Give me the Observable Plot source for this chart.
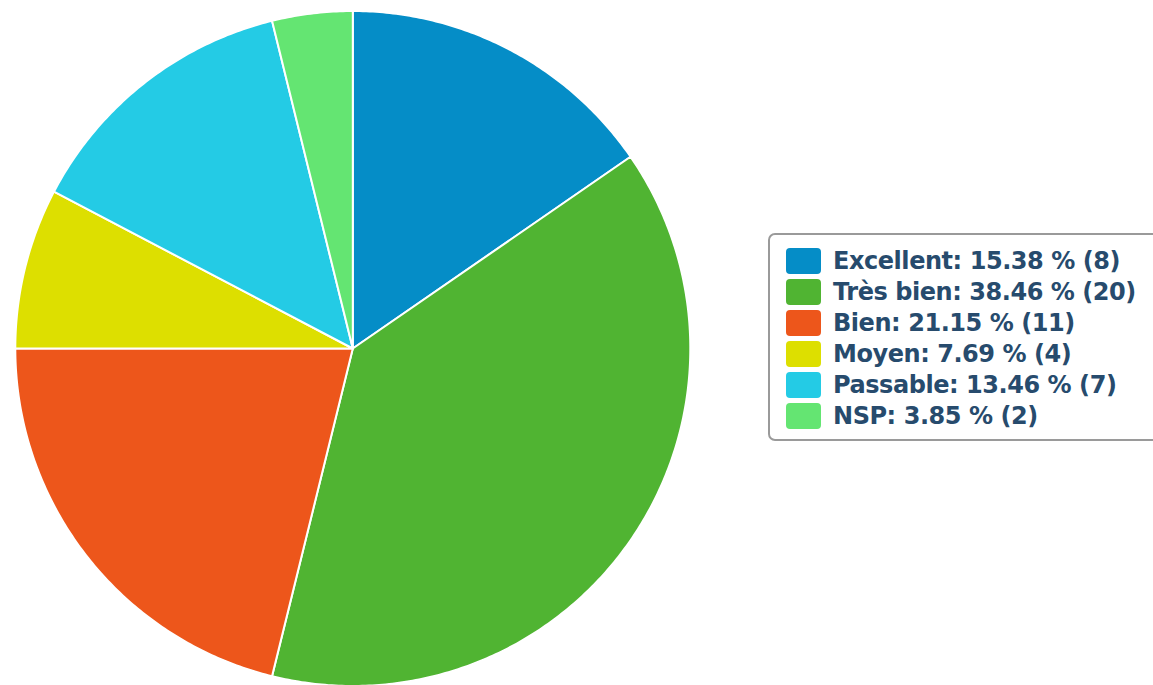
<!DOCTYPE html>
<html>
<head>
<meta charset="utf-8">
<script src="https://cdn.jsdelivr.net/npm/d3@7"></script>
<script src="https://cdn.jsdelivr.net/npm/@observablehq/plot@0.6"></script>
<style>
  html, body { margin: 0; padding: 0; background: #fff; overflow: hidden; }
  #wrap { position: relative; width: 1153px; height: 685px; }
  #legend {
    position: absolute; left: 768px; top: 233px; width: 400px; height: 208px;
    border: 2px solid #9a9a9a; border-radius: 7px; box-sizing: border-box;
    font-family: "DejaVu Sans", sans-serif; font-weight: bold; font-size: 24px; letter-spacing: -0.45px; color: #274b6d;
    padding-top: 10px;
  }
  .item { display: flex; align-items: center; height: 31px; }
  .sw { width: 35px; height: 26px; border-radius: 4px; margin-left: 16px; margin-right: 12px; flex: none; }
</style>
</head>
<body>
<div id="wrap"><div id="chart"></div><div id="legend"></div></div>
<script>
const categories = ["Excellent", "Très bien", "Bien", "Moyen", "Passable", "NSP"];
const counts = [8, 20, 11, 4, 7, 2];
const percents = ["15.38", "38.46", "21.15", "7.69", "13.46", "3.85"];
const colors = ["#058DC7", "#50B432", "#ED561B", "#DDDF00", "#24CBE5", "#64E572"];

const arcs = d3.pie().sort(null).value(d => d)(counts);
const pts = [];
arcs.forEach((a, i) => {
  const name = categories[i];
  pts.push({name, x: 0, y: 0});
  const n = Math.max(4, Math.ceil((a.endAngle - a.startAngle) / 0.01));
  for (let k = 0; k <= n; k++) {
    const t = a.startAngle + (a.endAngle - a.startAngle) * k / n;
    pts.push({name, x: Math.sin(t), y: Math.cos(t)});
  }
  pts.push({name, x: 0, y: 0});
});

const chart = Plot.plot({
  width: 1153,
  height: 685,
  margin: 0,
  x: {domain: [-1, 1], range: [14.8, 689.8], axis: null},
  y: {domain: [-1, 1], range: [685.5, 10.5], axis: null},
  color: {domain: categories, range: colors},
  marks: [
    Plot.line(pts, {x: "x", y: "y", z: "name", fill: "name", stroke: "white", strokeWidth: 2, strokeLinejoin: "round", curve: "linear"})
  ]
});
document.getElementById("chart").appendChild(chart);

const legend = document.getElementById("legend");
categories.forEach((c, i) => {
  const row = document.createElement("div");
  row.className = "item";
  const sw = document.createElement("div");
  sw.className = "sw";
  sw.style.background = colors[i];
  const tx = document.createElement("span");
  tx.textContent = `${c}: ${percents[i]} % (${counts[i]})`;
  row.appendChild(sw); row.appendChild(tx);
  legend.appendChild(row);
});
</script>
</body>
</html>
